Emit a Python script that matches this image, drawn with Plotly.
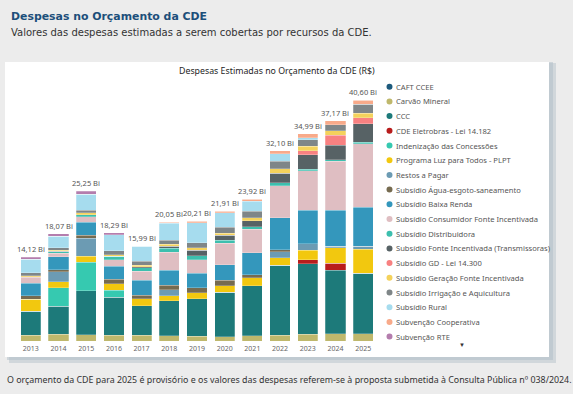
import plotly.graph_objects as go

years = ["2013", "2014", "2015", "2016", "2017", "2018", "2019", "2020", "2021", "2022", "2023", "2024", "2025"]
totals = [14.12, 18.07, 25.25, 18.29, 15.99, 20.05, 20.21, 21.91, 23.92, 32.10, 34.99, 37.17, 40.60]

series_names = [
    "CAFT CCEE", "Carvão Mineral", "CCC", "CDE Eletrobras - Lei 14.182",
    "Indenização das Concessões", "Programa Luz para Todos - PLPT", "Restos a Pagar",
    "Subsídio Água-esgoto-saneamento", "Subsídio Baixa Renda",
    "Subsídio Consumidor Fonte Incentivada", "Subsídio Distribuidora",
    "Subsídio Fonte Incentivada (Transmissoras)", "Subsídio GD - Lei 14.300",
    "Subsídio Geração Fonte Incentivada", "Subsídio Irrigação e Aquicultura",
    "Subsídio Rural", "Subvenção Cooperativa", "Subvenção RTE",
]

caft = [0, 0, 0, 0, 0, 0, 0, 0, 0, 0, 0, 0, 0]
carvao = [0.96, 1.10, 1.07, 1.00, 0.96, 0.90, 0.80, 0.75, 0.85, 1.00, 1.13, 1.24, 1.24]
ccc = [4.07, 4.80, 7.38, 6.40, 5.00, 5.86, 6.30, 7.43, 8.48, 11.80, 11.88, 10.65, 10.21]
cde_eletrobras = [0, 0, 0, 0, 0, 0, 0, 0, 0, 0, 0.68, 1.24, 0]
indenizacao = [0, 3.10, 4.86, 1.20, 0, 0, 0, 0, 0, 0, 0, 0, 0]
luz_todos = [2.03, 0.96, 0.96, 1.07, 1.13, 0.90, 1.00, 1.13, 1.30, 1.20, 1.58, 2.59, 4.00]
restos = [0, 1.70, 3.10, 0, 0, 0.96, 0, 0, 0, 1.07, 1.13, 0.22, 0.50]
agua = [0.56, 0.35, 0.45, 0.73, 0.62, 0.79, 0.90, 0.90, 0.56, 0.28, 0, 0, 0]
baixa_renda = [2.10, 2.20, 2.20, 2.20, 2.53, 2.53, 2.42, 2.65, 3.66, 5.46, 5.63, 6.08, 6.64]
consumidor_fi = [1.00, 0.60, 0.90, 1.13, 1.52, 3.04, 2.25, 3.66, 4.00, 5.40, 6.64, 8.28, 10.70]
distribuidora = [0.10, 0.25, 0.40, 0.56, 0.56, 0.68, 0.73, 0.45, 0.40, 0.45, 0.28, 0.28, 0.22]
transmissoras = [0, 0.10, 0, 0, 0.20, 0.28, 0.90, 0.84, 1.00, 1.63, 2.42, 2.42, 3.10]
gd = [0, 0, 0, 0, 0, 0, 0, 0, 0, 0, 0.68, 1.69, 1.00]
geracao_fi = [0.20, 0.15, 0.28, 0.22, 0.28, 0.34, 0.40, 0.40, 0.50, 0.73, 0.79, 0.73, 0.79]
irrigacao = [0.45, 0.45, 0.45, 0.68, 0.68, 0.73, 0.90, 0.96, 1.13, 1.30, 1.13, 1.07, 1.52]
rural = [2.35, 1.91, 2.70, 2.70, 2.51, 2.82, 3.33, 2.46, 1.70, 1.22, 0.34, 0, 0]
cooperativa = [0, 0, 0, 0, 0, 0.22, 0.28, 0.28, 0.34, 0.56, 0.68, 0.68, 0.68]
rte = [0.30, 0.40, 0.50, 0.40, 0, 0, 0, 0, 0, 0, 0, 0, 0]

series_values = [caft, carvao, ccc, cde_eletrobras, indenizacao, luz_todos, restos, agua,
                 baixa_renda, consumidor_fi, distribuidora, transmissoras, gd, geracao_fi,
                 irrigacao, rural, cooperativa, rte]

colors = ["#1d5a7c", "#bfb86c", "#1d7a7a", "#b81c1c", "#36c9b0", "#f2c80f", "#6c9bb3",
          "#766b50", "#3497bc", "#dfbec2", "#3dbfae", "#576265", "#f88181", "#f4d25c",
          "#7f8688", "#a6dcee", "#f8aa8a", "#b47dad"]

W, H = 573, 394
L, R, T, B = 17, 377, 78, 341   # plot area in pixels
YMAX = (B - T) / 5.93

def px(x):
    return (x - L) / (R - L)

def py(y):
    return (B - y) / (B - T)

fig = go.Figure()
for name, vals, col in zip(series_names, series_values, colors):
    fig.add_trace(go.Bar(x=years, y=vals, name=name,
                         marker=dict(color=col, line=dict(width=0.4, color="rgba(255,255,255,0.6)")),
                         hovertemplate="%{x}: %{y:.2f} Bi<extra>" + name + "</extra>"))

annotations = []
# total labels (category index positions)
for i, tot in enumerate(totals):
    stack = sum(v[i] for v in series_values)
    annotations.append(dict(x=i, y=stack, xref="x", yref="y", text=f"{tot:.2f}".replace(".", ",") + " Bi",
                            showarrow=False, yanchor="bottom", yshift=1,
                            font=dict(family="Noto Sans", size=7.5, color="#555555")))

shapes = []
# card shadow and card
shapes.append(dict(type="rect", xref="paper", yref="paper", x0=px(9), x1=px(556), y0=py(63), y1=py(363),
                   fillcolor="rgba(160,178,190,0.35)", line=dict(width=0), layer="below"))
shapes.append(dict(type="rect", xref="paper", yref="paper", x0=px(7), x1=px(553), y0=py(62), y1=py(360),
                   fillcolor="rgba(170,186,198,0.45)", line=dict(width=0), layer="below"))
shapes.append(dict(type="rect", xref="paper", yref="paper", x0=px(5), x1=px(549), y0=py(62), y1=py(357),
                   fillcolor="white", line=dict(width=0), layer="below"))

# custom legend
leg_y0, leg_step = 86.7, 14.7
for i, (name, col) in enumerate(zip(series_names, colors)):
    yy = leg_y0 + i * leg_step
    shapes.append(dict(type="circle", xref="paper", yref="paper",
                       x0=px(386.5), x1=px(392.5), y0=py(yy - 3), y1=py(yy + 3),
                       fillcolor=col, line=dict(width=0)))
    annotations.append(dict(x=px(393.5), y=py(yy), xref="paper", yref="paper", text=name,
                            showarrow=False, xanchor="left", yanchor="middle",
                            font=dict(family="Noto Sans", size=7.6, color="#555555")))
annotations.append(dict(x=px(467), y=py(351), xref="paper", yref="paper", text="▼", showarrow=False,
                        font=dict(size=6, color="#333333")))

# titles
annotations.append(dict(x=px(9), y=py(17), xref="paper", yref="paper", text="<b>Despesas no Orçamento da CDE</b>",
                        showarrow=False, xanchor="left", yanchor="middle",
                        font=dict(family="DejaVu Sans", size=10.9, color="#1c4f7a")))
annotations.append(dict(x=px(9), y=py(33), xref="paper", yref="paper",
                        text="Valores das despesas estimadas a serem cobertas por recursos da CDE.",
                        showarrow=False, xanchor="left", yanchor="middle",
                        font=dict(family="DejaVu Sans", size=10.0, color="#333333")))
annotations.append(dict(x=px(277), y=py(71), xref="paper", yref="paper",
                        text="Despesas Estimadas no Orçamento da CDE (R$)",
                        showarrow=False, xanchor="center", yanchor="middle",
                        font=dict(family="Noto Sans", size=8.8, color="#252525")))
annotations.append(dict(x=px(5), y=py(380), xref="paper", yref="paper",
                        text="O orçamento da CDE para 2025 é provisório e os valores das despesas referem-se à proposta submetida à Consulta Pública nº 038/2024.",
                        showarrow=False, xanchor="left", yanchor="middle",
                        font=dict(family="Noto Sans", size=8.85, color="#333333")))

fig.update_layout(
    width=W, height=H, barmode="stack", bargap=0.27,
    margin=dict(l=L, r=W - R, t=T, b=H - B, pad=0),
    paper_bgcolor="#ececec", plot_bgcolor="rgba(0,0,0,0)",
    showlegend=False, shapes=shapes, annotations=annotations,
    xaxis=dict(type="category", range=[-0.5, len(years) - 0.5], showgrid=False, showline=False,
               zeroline=False, ticks="", tickfont=dict(family="Noto Sans", size=7, color="#666666"),
               ticklabelstandoff=2),
    yaxis=dict(range=[0, YMAX], visible=False, showgrid=False, zeroline=False),
)

fig.write_html("out.html", config={"displayModeBar": False},
               post_script="document.body.style.margin='0';")
